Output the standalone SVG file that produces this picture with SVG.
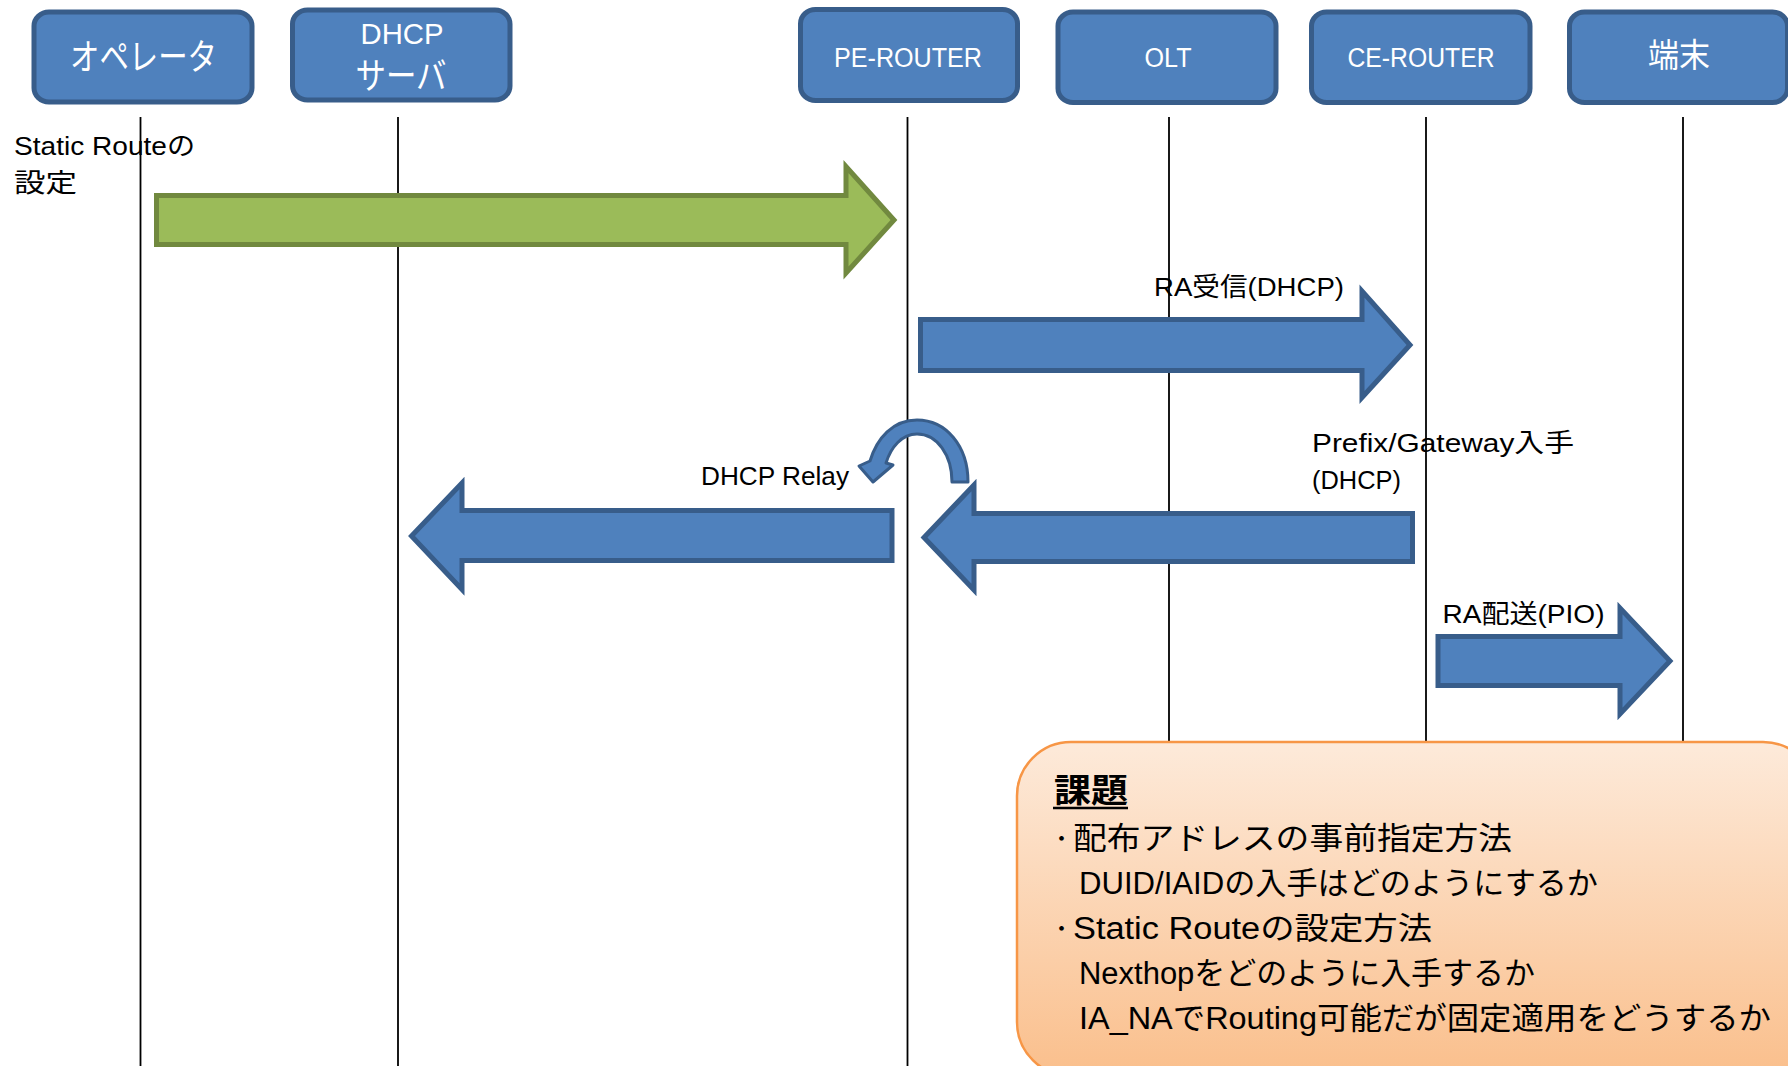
<svg xmlns="http://www.w3.org/2000/svg" width="1788" height="1066" viewBox="0 0 1788 1066">
  <defs>
    <linearGradient id="noteFill" x1="0" y1="0" x2="0" y2="1">
      <stop offset="0" stop-color="#FDEADA"/>
      <stop offset="1" stop-color="#FABF8C"/>
    </linearGradient>
    <style>
      .actor { fill: #4F81BD; stroke: #385D8A; stroke-width: 5; }
      .actor-label { fill: #FFFFFF; font-family: "Liberation Sans", "Noto Sans CJK JP", sans-serif; text-anchor: middle; }
      .lifeline { stroke: #000000; stroke-width: 1.8; fill: none; }
      .flow { fill: #4F81BD; stroke: #385D8A; stroke-width: 5; stroke-linejoin: miter; }
      .flow-green { fill: #9BBB59; stroke: #71893F; stroke-width: 5; stroke-linejoin: miter; }
      .loop { fill: #4F81BD; stroke: #385D8A; stroke-width: 3; stroke-linejoin: round; }
      .label { fill: #000000; font-family: "Liberation Sans", "Noto Sans CJK JP", sans-serif; font-size: 26px; }
      .note { fill: url(#noteFill); stroke: #F79646; stroke-width: 2.5; }
      .note-text { fill: #000000; font-family: "Liberation Sans", "Noto Sans CJK JP", sans-serif; font-size: 31px; }
      .bullet { fill: #000000; font-family: "Noto Sans CJK JP", sans-serif; font-size: 22px; }
      .note-title { fill: #000000; font-family: "Noto Sans CJK JP", sans-serif; font-size: 33px; font-weight: bold; }
    </style>
  </defs>

  <!-- lifelines -->
  <g id="lifelines">
    <line class="lifeline" x1="140.5" y1="117" x2="140.5" y2="1066"/>
    <line class="lifeline" x1="398" y1="117" x2="398" y2="1066"/>
    <line class="lifeline" x1="907.5" y1="117" x2="907.5" y2="1066"/>
    <line class="lifeline" x1="1169" y1="117" x2="1169" y2="1066"/>
    <line class="lifeline" x1="1426" y1="117" x2="1426" y2="1066"/>
    <line class="lifeline" x1="1683" y1="117" x2="1683" y2="1066"/>
  </g>

  <!-- participants -->
  <g id="operator">
    <rect class="actor" x="34" y="12" width="218" height="90" rx="15" ry="14"/>
    <text class="actor-label" x="143.5" y="70" font-size="36" textLength="147" lengthAdjust="spacingAndGlyphs">オペレータ</text>
  </g>
  <g id="dhcp-server">
    <rect class="actor" x="292.5" y="10" width="217.5" height="90" rx="15" ry="14"/>
    <text class="actor-label" x="402" y="44" font-size="29" textLength="83" lengthAdjust="spacingAndGlyphs">DHCP</text>
    <text class="actor-label" x="401" y="89" font-size="36" textLength="91" lengthAdjust="spacingAndGlyphs">サーバ</text>
  </g>
  <g id="pe-router">
    <rect class="actor" x="800.5" y="9.5" width="217" height="91" rx="15" ry="14"/>
    <text class="actor-label" x="908" y="67" font-size="27" textLength="148" lengthAdjust="spacingAndGlyphs">PE-ROUTER</text>
  </g>
  <g id="olt">
    <rect class="actor" x="1058" y="12" width="218" height="90.5" rx="15" ry="14"/>
    <text class="actor-label" x="1168" y="67" font-size="27" textLength="47" lengthAdjust="spacingAndGlyphs">OLT</text>
  </g>
  <g id="ce-router">
    <rect class="actor" x="1311.5" y="12" width="218.5" height="90.5" rx="15" ry="14"/>
    <text class="actor-label" x="1421" y="67" font-size="27" textLength="147" lengthAdjust="spacingAndGlyphs">CE-ROUTER</text>
  </g>
  <g id="terminal">
    <rect class="actor" x="1569.5" y="12" width="218" height="90.5" rx="15" ry="14"/>
    <text class="actor-label" x="1679" y="67" font-size="33" textLength="62" lengthAdjust="spacingAndGlyphs">端末</text>
  </g>

  <!-- message arrows -->
  <g id="connectors">
    <polygon class="flow-green" points="156.5,195.5 846,195.5 846,166.5 894,220 846,273 846,244.5 156.5,244.5"/>
    <polygon class="flow" points="920.5,319.5 1362,319.5 1362,291 1410,345 1362,397.5 1362,370.5 920.5,370.5"/>
    <polygon class="flow" points="892,510.5 462,510.5 462,483 411.5,536 462,589.5 462,560.5 892,560.5"/>
    <polygon class="flow" points="1412.5,513.5 974,513.5 974,485 924,537.5 974,590 974,561.5 1412.5,561.5"/>
    <polygon class="flow" points="1438,636.5 1620,636.5 1620,608 1670,661 1620,714 1620,685.5 1438,685.5"/>
    <path class="loop" d="M 968 482 C 968 446 946 420 917 420 C 893 420 877 438 870 461 L 859 466 L 873 482 L 893 465 L 886 463 C 891 447 902 434 917 434 C 937 434 952 455 952 482 Z"/>
  </g>

  <!-- message labels -->
  <g id="labels">
    <text class="label" x="14" y="155" textLength="181" lengthAdjust="spacingAndGlyphs">Static Routeの</text>
    <text class="label" x="14" y="192" font-size="30" textLength="63" lengthAdjust="spacingAndGlyphs">設定</text>
    <text class="label" x="1154" y="296" textLength="190" lengthAdjust="spacingAndGlyphs">RA受信(DHCP)</text>
    <text class="label" x="701" y="485" textLength="148" lengthAdjust="spacingAndGlyphs">DHCP Relay</text>
    <text class="label" x="1312" y="452" textLength="262" lengthAdjust="spacingAndGlyphs">Prefix/Gateway入手</text>
    <text class="label" x="1312" y="489" textLength="89" lengthAdjust="spacingAndGlyphs">(DHCP)</text>
    <text class="label" x="1442.5" y="623" textLength="162" lengthAdjust="spacingAndGlyphs">RA配送(PIO)</text>
  </g>

  <!-- issues note -->
  <g id="issues">
    <rect class="note" x="1017" y="742" width="800" height="334" rx="54" ry="54"/>
    <text class="note-title" x="1054" y="802" textLength="74" lengthAdjust="spacingAndGlyphs">課題</text>
    <line x1="1053" y1="808" x2="1128" y2="808" stroke="#000000" stroke-width="2.5"/>
    <text class="bullet" x="1050.5" y="845.5">・</text>
    <text class="note-text" x="1073" y="849" textLength="439" lengthAdjust="spacingAndGlyphs">配布アドレスの事前指定方法</text>
    <text class="note-text" x="1079" y="894" textLength="519" lengthAdjust="spacingAndGlyphs">DUID/IAIDの入手はどのようにするか</text>
    <text class="bullet" x="1050.5" y="935.5">・</text>
    <text class="note-text" x="1073" y="939" textLength="359" lengthAdjust="spacingAndGlyphs">Static Routeの設定方法</text>
    <text class="note-text" x="1079" y="984" textLength="456" lengthAdjust="spacingAndGlyphs">Nexthopをどのように入手するか</text>
    <text class="note-text" x="1079" y="1029" textLength="692" lengthAdjust="spacingAndGlyphs">IA_NAでRouting可能だが固定適用をどうするか</text>
  </g>
</svg>
